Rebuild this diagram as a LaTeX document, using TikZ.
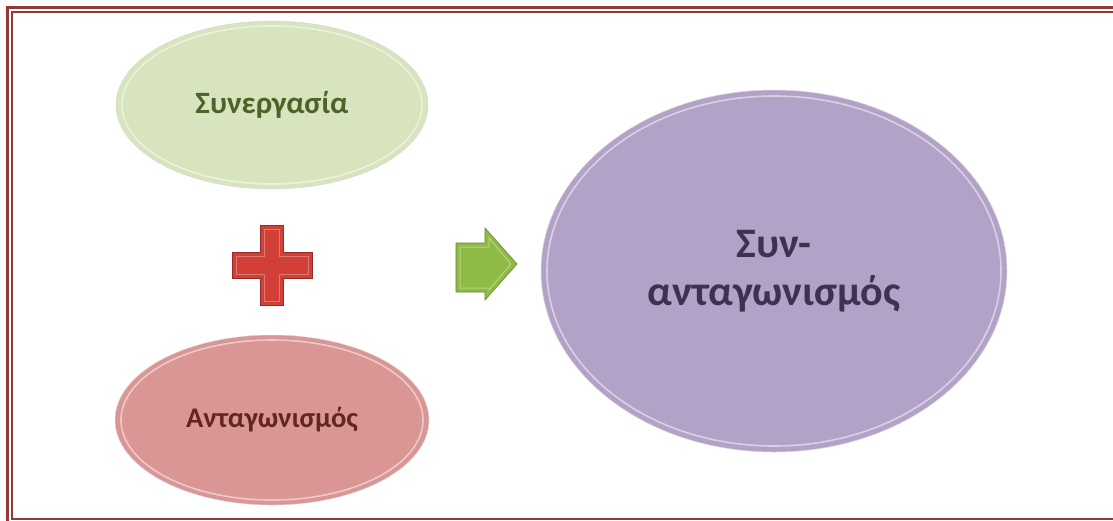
\documentclass[tikz,border=0pt]{standalone}
\usepackage{fontspec}
\setmainfont{Carlito}
\usetikzlibrary{shapes.geometric}
\definecolor{framered}{HTML}{953735}
\definecolor{greenfill}{HTML}{D7E4BD}
\definecolor{greentext}{HTML}{4F6228}
\definecolor{pinkfill}{HTML}{D99694}
\definecolor{pinktext}{HTML}{632523}
\definecolor{purplefill}{HTML}{B3A2C7}
\definecolor{purpletext}{HTML}{403152}
\definecolor{plusred}{HTML}{D23F36}
\definecolor{arrowgreen}{HTML}{8FBB44}
\tikzset{
  bubble/.style={ellipse, inner sep=0pt, draw=black!15, line width=0.5pt, font=\bfseries},
  rim/.style={draw=white, opacity=0.5, line width=1.6pt}
}
\begin{document}
\begin{tikzpicture}[x=1pt,y=-1pt]
\useasboundingbox (0,0) rectangle (1113,520);
\begin{scope}
\clip (0,0) rectangle (1113,520);
\draw[framered, line width=2.6pt] (7.5,7.5) rectangle (1130,530);
\draw[framered, line width=2.2pt] (12.3,12.3) rectangle (1125,519);
\end{scope}
% ellipses
\node[bubble, fill=greenfill, minimum width=312pt, minimum height=168pt,
      text=greentext, font=\bfseries\fontsize{31}{36}\selectfont] (syn) at (272,105) {Συνεργασία};
\draw[rim] (272,105) ellipse [x radius=150pt, y radius=79pt];
\node[bubble, fill=pinkfill, minimum width=314pt, minimum height=170pt,
      text=pinktext, font=\bfseries\fontsize{28.5}{34}\selectfont] (ant) at (272,420) {Ανταγωνισμός};
\draw[rim] (272,420) ellipse [x radius=151pt, y radius=80pt];
\node[bubble, fill=purplefill, minimum width=466pt, minimum height=362pt,
      text=purpletext, align=center, font=\bfseries\fontsize{42}{48}\selectfont] (res) at (774,271) {Συν-\\ανταγωνισμός};
\draw[rim] (774,271) ellipse [x radius=227pt, y radius=175pt];
% plus sign
\filldraw[fill=plusred, draw=plusred!70!black, line width=0.6pt]
  (260,225) -- (283,225) -- (283,252) -- (312,252) -- (312,278) -- (283,278)
  -- (283,305) -- (260,305) -- (260,278) -- (232,278) -- (232,252) -- (260,252) -- cycle;
\draw[white, opacity=0.3, line width=1pt]
  (264,229) -- (279,229) -- (279,256) -- (308,256) -- (308,274) -- (279,274)
  -- (279,301) -- (264,301) -- (264,274) -- (236,274) -- (236,256) -- (264,256) -- cycle;
% arrow
\filldraw[fill=arrowgreen, draw=arrowgreen!70!black, line width=0.6pt]
  (456,243) -- (485,243) -- (485,228) -- (517,264) -- (485,300) -- (485,292) -- (456,292) -- cycle;
\draw[white, opacity=0.35, line width=1pt]
  (460,247) -- (489,247) -- (489,238) -- (511,264) -- (489,290) -- (489,288) -- (460,288) -- cycle;
\end{tikzpicture}
\end{document}
